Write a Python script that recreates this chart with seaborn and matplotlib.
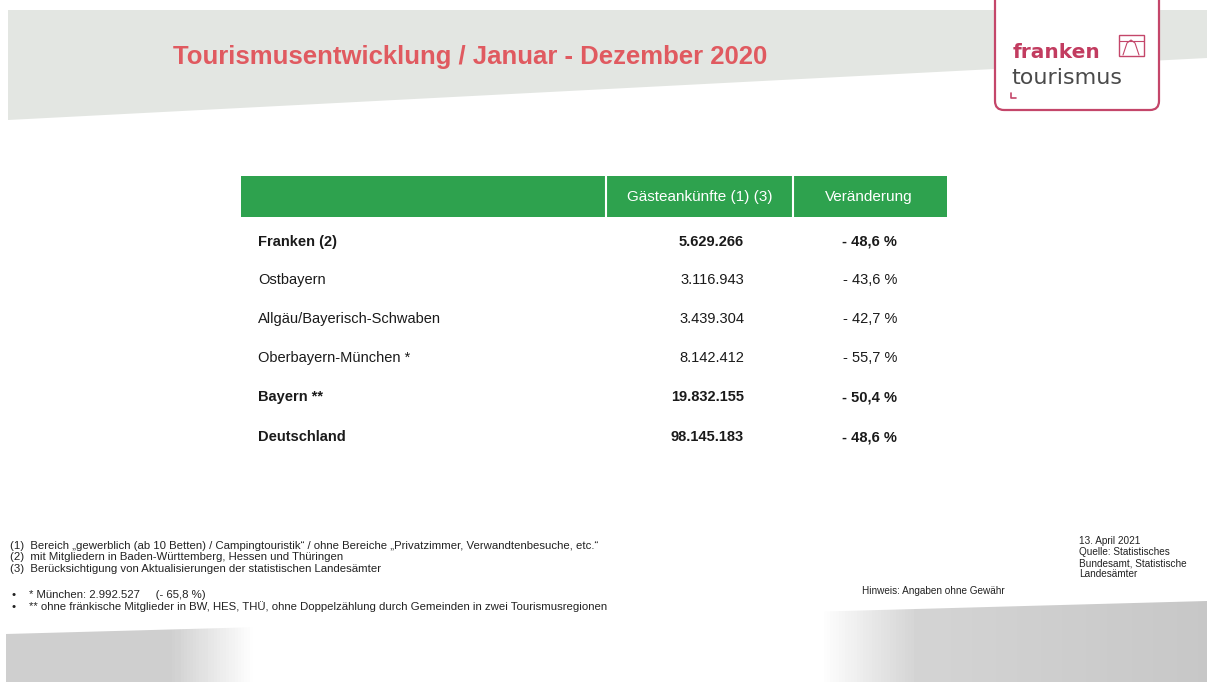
import numpy as np
import pandas as pd
import matplotlib.pyplot as plt
import seaborn as sns
from matplotlib.patches import Polygon, Rectangle, FancyBboxPatch

# table data
regions = ['Franken (2)', 'Ostbayern', 'Allgäu/Bayerisch-Schwaben',
           'Oberbayern-München *', 'Bayern **', 'Deutschland']
arrivals = [5629266, 3116943, 3439304, 8142412, 19832155, 98145183]
change = [-48.6, -43.6, -42.7, -55.7, -50.4, -48.6]
bold_rows = [True, False, False, False, True, True]
columns = ['Gästeankünfte (1) (3)', 'Veränderung']

title = 'Tourismusentwicklung / Januar - Dezember 2020'
footnotes = ['(1)  Bereich „gewerblich (ab 10 Betten) / Campingtouristik“ / ohne Bereiche „Privatzimmer, Verwandtenbesuche, etc.“',
             '(2)  mit Mitgliedern in Baden-Württemberg, Hessen und Thüringen',
             '(3)  Berücksichtigung von Aktualisierungen der statistischen Landesämter']
bullets = ['* München: 2.992.527     (- 65,8 %)',
           '** ohne fränkische Mitglieder in BW, HES, THÜ, ohne Doppelzählung durch Gemeinden in zwei Tourismusregionen']
source = ['13. April 2021', 'Quelle: Statistisches', 'Bundesamt, Statistische', 'Landesämter']
hint = 'Hinweis: Angaben ohne Gewähr'

df = pd.DataFrame({'region': regions, 'arrivals': arrivals, 'change': change, 'bold': bold_rows})
df['arr_txt'] = df['arrivals'].map(lambda v: f'{v:,}'.replace(',', '.'))
df['chg_txt'] = df['change'].map(lambda v: f'- {abs(v):.1f} %'.replace('.', ','))

sns.set_theme(style='white')
plt.rcParams['font.family'] = ['Liberation Sans', 'DejaVu Sans']

fig = plt.figure(figsize=(12.07, 6.82), dpi=100)
ax = fig.add_axes([0, 0, 1, 1])
ax.set_xlim(0, 1207)
ax.set_ylim(682, 0)
ax.axis('off')

# grey band at the top
ax.add_patch(Polygon([(8, 10), (1207, 10), (1207, 58), (8, 120)], closed=True,
                     facecolor='#e3e6e2', edgecolor='none', zorder=0))

# grey band at the bottom, fading to white in the middle
xs = np.linspace(0, 1, 400)
shade = np.interp(xs, [0, 0.14, 0.21, 0.68, 0.76, 1], [0.81, 0.81, 1.0, 1.0, 0.83, 0.78])
grad = np.tile(shade, (10, 1))
band = Polygon([(6, 634), (1207, 601), (1207, 682), (6, 682)], closed=True,
               facecolor='none', edgecolor='none')
ax.add_patch(band)
im = ax.imshow(grad, extent=(0, 1207, 682, 600), cmap='gray', vmin=0, vmax=1,
               aspect='auto', zorder=0)
im.set_clip_path(band)
ax.set_xlim(0, 1207)
ax.set_ylim(682, 0)

# logo
ax.add_patch(FancyBboxPatch((995, -20), 164, 130, boxstyle='round,pad=0,rounding_size=9',
                            facecolor='white', edgecolor='#c4466a', lw=1.6, zorder=2))
ax.text(1013, 58, 'franken', color='#c23c60', fontsize=14.5, fontweight='bold',
        family='DejaVu Sans', va='baseline', ha='left', zorder=3)
ax.text(1011, 84, 'tourismus', color='#4a4a4a', fontsize=16, family='DejaVu Sans',
        va='baseline', ha='left', zorder=3)
ax.add_patch(Rectangle((1119, 35), 25, 21, facecolor='none', edgecolor='#c4466a', lw=1.0, zorder=3))
ax.plot([1123, 1127, 1131, 1135, 1139], [55, 43, 40, 43, 55], color='#c4466a', lw=0.8, zorder=3)
ax.plot([1119, 1144], [41, 41], color='#c4466a', lw=0.8, zorder=3)
ax.plot([1011, 1011, 1016], [93, 98, 98], color='#c4466a', lw=1.2, zorder=3)

# title
ax.text(173, 57, title, color='#e05a60', fontsize=18.5, fontweight='bold', va='center', ha='left')

# table header
ax.add_patch(Rectangle((241, 176), 706, 41, facecolor='#2ea24e', edgecolor='none'))
for sx in [606, 793]:
    ax.plot([sx, sx], [176, 217], color='white', lw=1.5)
ax.text(700, 197, columns[0], color='white', fontsize=11, ha='center', va='center')
ax.text(869, 197, columns[1], color='white', fontsize=11, ha='center', va='center')

# table rows
row_y = [242, 280, 319, 358, 397, 437]
for i, r in df.iterrows():
    w = 'bold' if r['bold'] else 'normal'
    ax.text(258, row_y[i], r['region'], fontsize=10.5, fontweight=w, color='#1a1a1a', va='center', ha='left')
    ax.text(744, row_y[i], r['arr_txt'], fontsize=10.5, fontweight=w, color='#1a1a1a', va='center', ha='right')
    ax.text(897, row_y[i], r['chg_txt'], fontsize=10.5, fontweight=w, color='#1a1a1a', va='center', ha='right')

# footnotes
for j, t in enumerate(footnotes):
    ax.text(10, 546 + j * 11.5, t, fontsize=8.2, color='#222222', va='center', ha='left')
for j, t in enumerate(bullets):
    ax.text(11, 595 + j * 11.5, '•', fontsize=8.2, color='#222222', va='center', ha='left')
    ax.text(29, 595 + j * 11.5, t, fontsize=8.2, color='#222222', va='center', ha='left')
ax.text(862, 591, hint, fontsize=7.2, color='#222222', va='center', ha='left')
for j, t in enumerate(source):
    ax.text(1079, 541 + j * 11, t, fontsize=7.2, color='#222222', va='center', ha='left')

fig.savefig('out.png', dpi=100)
